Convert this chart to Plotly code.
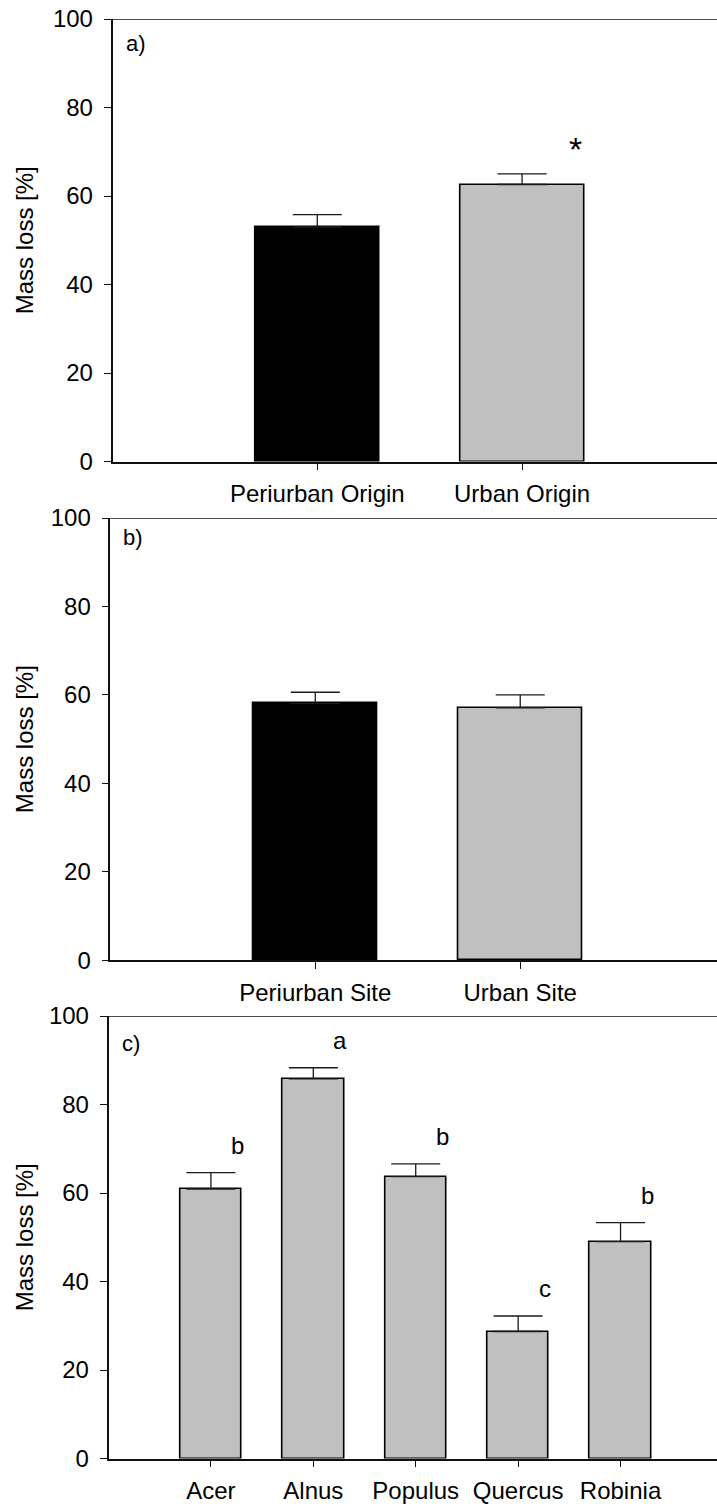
import plotly.graph_objects as go

# ---- data ----
origin_cats = ["Periurban Origin", "Urban Origin"]
origin_mean = [53.0, 62.6]
origin_err = [2.8, 2.4]
origin_sig = ["", "*"]

site_cats = ["Periurban Site", "Urban Site"]
site_mean = [58.1, 57.1]
site_err = [2.5, 2.9]
site_sig = ["", ""]

species_cats = ["Acer", "Alnus", "Populus", "Quercus", "Robinia"]
species_mean = [60.9, 85.8, 63.7, 28.7, 49.0]
species_err = [3.7, 2.5, 2.9, 3.5, 4.3]
species_sig = ["b", "a", "b", "c", "b"]

panel_tags = ["a)", "b)", "c)"]
y_ticks = [0, 20, 40, 60, 80, 100]
y_title = "Mass loss [%]"

# ---- styling / layout ----
W, H = 717, 1506
FONT = "Liberation Sans, Arial, Helvetica, sans-serif"
FS = 24
BLACK = "#000000"
GREY = "#c0c0c0"

panels = [
    dict(cats=origin_cats, mean=origin_mean, err=origin_err, sig=origin_sig,
         colors=[BLACK, GREY], top=19, bottom=461.5, left=112.5, xmax=1.952,
         bw=0.605, tag_y=94.4),
    dict(cats=site_cats, mean=site_mean, err=site_err, sig=site_sig,
         colors=[BLACK, GREY], top=518, bottom=960.3, left=110.3, xmax=1.96,
         bw=0.605, tag_y=95.7),
    dict(cats=species_cats, mean=species_mean, err=species_err, sig=species_sig,
         colors=[GREY] * 5, top=1016, bottom=1458.5, left=108.5, xmax=4.942,
         bw=0.6, tag_y=93.7),
]

fig = go.Figure()
annotations = []
shapes = []
layout_axes = {}

for i, p in enumerate(panels):
    n = i + 1
    xa = "x" if n == 1 else f"x{n}"
    ya = "y" if n == 1 else f"y{n}"
    fig.add_trace(go.Bar(
        x=p["cats"], y=p["mean"], xaxis=xa, yaxis=ya,
        width=p["bw"],
        marker=dict(color=p["colors"], line=dict(color=BLACK, width=1.6)),
        error_y=dict(type="data", array=p["err"], arrayminus=[0] * len(p["err"]),
                     symmetric=False, color="#1a1a1a", thickness=1.3, width=24.5),
        showlegend=False,
    ))
    y0 = 1 - p["bottom"] / H
    y1 = 1 - p["top"] / H
    xkey = "xaxis" if n == 1 else f"xaxis{n}"
    ykey = "yaxis" if n == 1 else f"yaxis{n}"
    layout_axes[xkey] = dict(
        domain=[p["left"] / W, 1], anchor=ya, type="category",
        range=[-1, p["xmax"]], showline=True, linecolor="#111", linewidth=1.5,
        ticks="outside", ticklen=7, tickwidth=1.2, tickcolor="#111",
        tickfont=dict(family=FONT, size=FS, color=BLACK),
        ticklabelstandoff=3, showgrid=False, zeroline=False, fixedrange=True,
        automargin=False,
    )
    layout_axes[ykey] = dict(
        domain=[y0, y1], anchor=xa, range=[0, 100], tickvals=y_ticks,
        showline=True, linecolor="#111", linewidth=1.5,
        ticks="outside", ticklen=7, tickwidth=1.2, tickcolor="#111",
        tickfont=dict(family=FONT, size=FS, color=BLACK),
        ticklabelstandoff=6, showgrid=False, zeroline=False, fixedrange=True,
        automargin=False,
    )
    shapes.append(dict(type="line", xref=f"{xa} domain", yref=ya, x0=0, x1=1,
                       y0=100, y1=100, line=dict(color="#111", width=1.5)))
    annotations.append(dict(xref=f"{xa} domain", yref=ya, x=0, y=p["tag_y"],
                            xshift=11, xanchor="left", yanchor="middle",
                            text=panel_tags[i], showarrow=False,
                            font=dict(family=FONT, size=FS - 2, color=BLACK)))
    for j, s in enumerate(p["sig"]):
        if s:
            is_star = s == "*"
            annotations.append(dict(xref=xa, yref=ya, x=j + 0.26,
                                    y=p["mean"][j] + p["err"][j],
                                    xanchor="center", yanchor="bottom",
                                    yshift=4 if is_star else 12,
                                    text=s, showarrow=False,
                                    font=dict(family=FONT, size=34 if is_star else FS,
                                              color=BLACK)))
    annotations.append(dict(xref="paper", yref="paper", x=24 / W, y=(y0 + y1) / 2,
                            xanchor="center", yanchor="middle", textangle=-90,
                            text=y_title, showarrow=False,
                            font=dict(family=FONT, size=FS, color=BLACK)))

fig.update_layout(
    width=W, height=H, margin=dict(l=0, r=0, t=0, b=0, autoexpand=False),
    paper_bgcolor="white", plot_bgcolor="white",
    annotations=annotations, shapes=shapes, bargap=0,
    **layout_axes,
)

fig.write_html("out.html")
